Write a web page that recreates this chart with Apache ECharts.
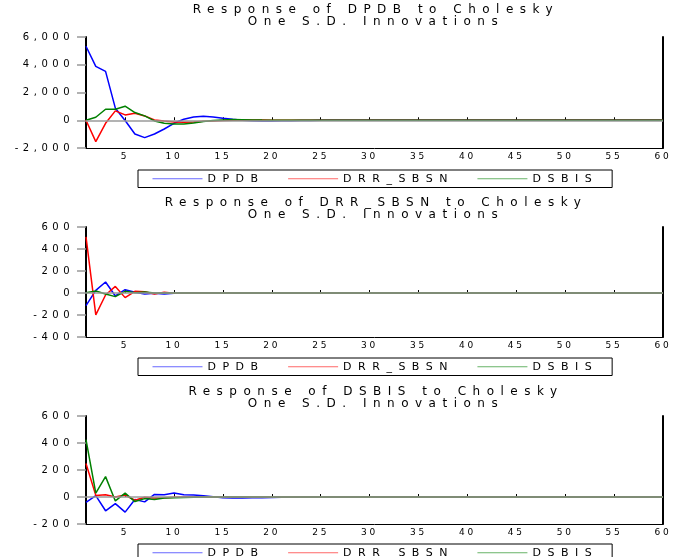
<!DOCTYPE html>
<html>
<head>
<meta charset="utf-8">
<script src="https://cdn.jsdelivr.net/npm/echarts@6/dist/echarts.min.js"></script>
<style>
  html, body { margin: 0; background: #fff; }
  #main { width: 675px; height: 557px; }
</style>
</head>
<body>
<div id="main"></div>
<script>
// the source graph has very wide lettering, so space the letters out a bit
const SPACING = { '12': 6.5, '11': 6.5, '10': 4.5, '9': 2.8 };
const fontProp = Object.getOwnPropertyDescriptor(CanvasRenderingContext2D.prototype, 'font');
Object.defineProperty(CanvasRenderingContext2D.prototype, 'font', {
    get() { return fontProp.get.call(this); },
    set(v) {
        fontProp.set.call(this, v);
        const m = /(\d+)(?:\.\d+)?px/.exec(v);
        this.letterSpacing = (m && SPACING[m[1]] ? SPACING[m[1]] : 0) + 'px';
    }
});

const periods = Array.from({ length: 60 }, (_, i) => i + 1);
const names = ['DPDB', 'DRR_SBSN', 'DSBIS'];
const colors = ['#0000ff', '#ff0000', '#008000'];

const titles = [
    'Response of DPDB to Cholesky\nOne S.D. Innovations',
    'Response of DRR_SBSN to Cholesky\nOne S.D. Innovations',
    'Response of DSBIS to Cholesky\nOne S.D. Innovations'
];

// response of DPDB
const dpdbToDpdb = [5330, 3880, 3520, 870, -20, -990, -1250, -990, -630, -220,
    70, 240, 290, 240, 145, 70, 0, -40, -55, -50,
    -40, -30, -20, -10, -5, 0, 0, 0, 0, 0,
    0, 0, 0, 0, 0, 0, 0, 0, 0, 0,
    0, 0, 0, 0, 0, 0, 0, 0, 0, 0,
    0, 0, 0, 0, 0, 0, 0, 0, 0, 0];
const dpdbToDrr = [0, -1540, -220, 675, 385, 505, 313, 25, -50, -120,
    -145, -120, -70, -50, -20, 0, 10, 15, 10, 5,
    0, 0, 0, 0, 0, 0, 0, 0, 0, 0,
    0, 0, 0, 0, 0, 0, 0, 0, 0, 0,
    0, 0, 0, 0, 0, 0, 0, 0, 0, 0,
    0, 0, 0, 0, 0, 0, 0, 0, 0, 0];
const dpdbToDsbis = [0, 215, 795, 795, 1010, 555, 313, -50, -215, -265,
    -265, -190, -95, -25, 25, 50, 40, 25, 10, 5,
    0, 0, 0, 0, 0, 0, 0, 0, 0, 0,
    0, 0, 0, 0, 0, 0, 0, 0, 0, 0,
    0, 0, 0, 0, 0, 0, 0, 0, 0, 0,
    0, 0, 0, 0, 0, 0, 0, 0, 0, 0];

// response of DRR_SBSN
const drrToDpdb = [-115, 24, 100, -27, 30, 6, -9, -3, -9, -3,
    0, 2, 3, 3, 2, 1, 0, 0, 0, 0,
    0, 0, 0, 0, 0, 0, 0, 0, 0, 0,
    0, 0, 0, 0, 0, 0, 0, 0, 0, 0,
    0, 0, 0, 0, 0, 0, 0, 0, 0, 0,
    0, 0, 0, 0, 0, 0, 0, 0, 0, 0];
const drrToDrr = [510, -199, -18, 60, -42, 15, 12, -9, 6, -3,
    1, 0, 0, 0, 0, 0, 0, 0, 0, 0,
    0, 0, 0, 0, 0, 0, 0, 0, 0, 0,
    0, 0, 0, 0, 0, 0, 0, 0, 0, 0,
    0, 0, 0, 0, 0, 0, 0, 0, 0, 0,
    0, 0, 0, 0, 0, 0, 0, 0, 0, 0];
const drrToDsbis = [3, 18, -9, -33, 15, 3, 9, 0, 0, 0,
    0, 0, 0, 0, 0, 0, 0, 0, 0, 0,
    0, 0, 0, 0, 0, 0, 0, 0, 0, 0,
    0, 0, 0, 0, 0, 0, 0, 0, 0, 0,
    0, 0, 0, 0, 0, 0, 0, 0, 0, 0,
    0, 0, 0, 0, 0, 0, 0, 0, 0, 0];

// response of DSBIS
const dsbisToDpdb = [-39, 10, -102, -49, -112, -19, -36, 19, 17, 29,
    17, 15, 10, 2, -5, -7, -7, -6, -5, -3,
    -2, -1, 0, 0, 0, 0, 0, 0, 0, 0,
    0, 0, 0, 0, 0, 0, 0, 0, 0, 0,
    0, 0, 0, 0, 0, 0, 0, 0, 0, 0,
    0, 0, 0, 0, 0, 0, 0, 0, 0, 0];
const dsbisToDrr = [248, 12, 17, 0, 15, -24, -2, -7, -5, -2,
    0, 0, 0, 0, 0, 0, 0, 0, 0, 0,
    0, 0, 0, 0, 0, 0, 0, 0, 0, 0,
    0, 0, 0, 0, 0, 0, 0, 0, 0, 0,
    0, 0, 0, 0, 0, 0, 0, 0, 0, 0,
    0, 0, 0, 0, 0, 0, 0, 0, 0, 0];
const dsbisToDsbis = [425, 29, 151, -29, 29, -34, -12, -19, -7, -5,
    -3, -1, 0, 0, 0, 0, 0, 0, 0, 0,
    0, 0, 0, 0, 0, 0, 0, 0, 0, 0,
    0, 0, 0, 0, 0, 0, 0, 0, 0, 0,
    0, 0, 0, 0, 0, 0, 0, 0, 0, 0,
    0, 0, 0, 0, 0, 0, 0, 0, 0, 0];

const panelData = [
    [dpdbToDpdb, dpdbToDrr, dpdbToDsbis],
    [drrToDpdb, drrToDrr, drrToDsbis],
    [dsbisToDpdb, dsbisToDrr, dsbisToDsbis]
];

const yMin = [-2000, -400, -200];
const yMax = [6000, 600, 600];
const yStep = [2000, 200, 200];

const gridTop = [37, 227, 416];
const gridHeight = [111, 110, 108];
const titleTop = [4, 197, 386];
const legendTop = [170, 358, 544];

const FONT = 'DejaVu Sans';
const everyFifth = (i, v) => Number(v) % 5 === 0;

const grid = [], xAxis = [], yAxis = [], title = [], legend = [], series = [];

for (let p = 0; p < 3; p++) {
    grid.push({ left: 86, right: 12, top: gridTop[p], height: gridHeight[p] });

    title.push({
        text: titles[p],
        left: 376,
        top: titleTop[p],
        textAlign: 'center',
        padding: 0,
        textStyle: { fontFamily: FONT, fontSize: 12, fontWeight: 'normal', color: '#000', lineHeight: 12 }
    });

    legend.push({
        data: names,
        left: 138,
        top: legendTop[p],
        padding: [0, 14],
        itemGap: 23,
        itemWidth: 50,
        itemHeight: 10,
        borderColor: '#000',
        borderWidth: 1,
        selectedMode: false,
        itemStyle: { opacity: 0 },
        lineStyle: { width: 1, opacity: 0.6 },
        textStyle: { fontFamily: FONT, fontSize: 11, color: '#000', lineHeight: 11 }
    });

    panelData[p].forEach((vals, k) => {
        const s = {
            name: names[k],
            type: 'line',
            xAxisIndex: p,
            yAxisIndex: p,
            data: vals,
            symbol: 'none',
            color: colors[k],
            lineStyle: { width: 1.5, color: colors[k] },
            silent: true,
            animation: false
        };
        if (k === 0) {
            s.markLine = {
                silent: true,
                symbol: 'none',
                label: { show: false },
                lineStyle: { color: '#9a9a9a', width: 1.5, type: 'solid' },
                data: [{ yAxis: 0 }]
            };
        }
        series.push(s);
    });
}

// bottom and left axes carry ticks and labels
for (let p = 0; p < 3; p++) {
    xAxis.push({
        type: 'category',
        gridIndex: p,
        data: periods,
        boundaryGap: false,
        axisLine: { show: false },
        axisTick: { show: true, inside: true, length: 3, interval: everyFifth, lineStyle: { color: '#000' } },
        axisLabel: { interval: everyFifth, margin: 3, fontFamily: FONT, fontSize: 9, color: '#000' },
        splitLine: { show: false }
    });
    yAxis.push({
        type: 'value',
        gridIndex: p,
        min: yMin[p],
        max: yMax[p],
        interval: yStep[p],
        axisLine: { show: true, lineStyle: { color: '#000', width: 2 } },
        axisTick: { show: true, length: 9, lineStyle: { color: '#999', width: 1.5 } },
        axisLabel: {
            margin: 12, fontFamily: FONT, fontSize: 10, color: '#000',
            formatter: v => v.toLocaleString('en-US')
        },
        splitLine: { show: false }
    });
}
// top and right axes just close the frame
for (let p = 0; p < 3; p++) {
    xAxis.push({
        type: 'category',
        gridIndex: p,
        position: 'top',
        data: periods,
        boundaryGap: false,
        axisLine: { show: true, lineStyle: { color: '#000', width: 1 } },
        axisTick: { show: false },
        axisLabel: { show: false }
    });
    yAxis.push({
        type: 'value',
        gridIndex: p,
        position: 'right',
        axisLine: { show: true, lineStyle: { color: '#000', width: 2 } },
        axisTick: { show: false },
        axisLabel: { show: false },
        splitLine: { show: false }
    });
}

const myChart = echarts.init(document.getElementById('main'));
myChart.setOption({
    backgroundColor: '#fff',
    animation: false,
    title: title,
    legend: legend,
    grid: grid,
    xAxis: xAxis,
    yAxis: yAxis,
    series: series
});
</script>
</body>
</html>
